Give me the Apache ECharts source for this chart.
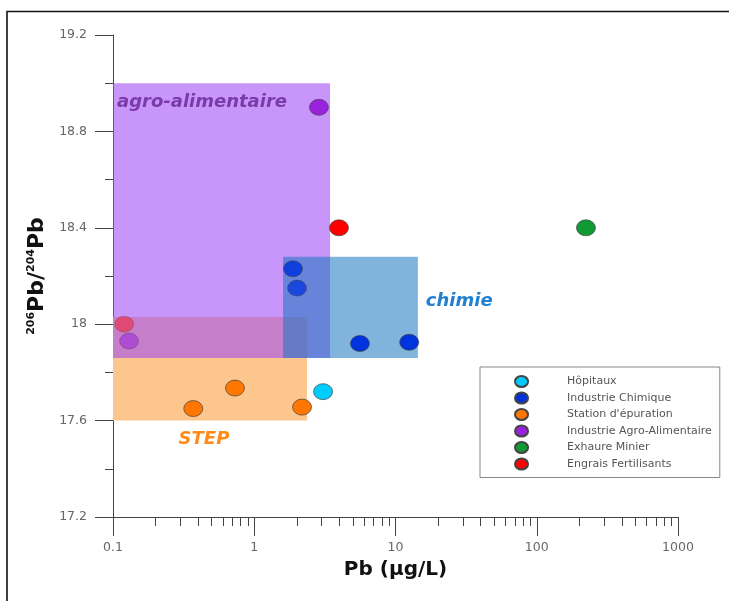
<!DOCTYPE html>
<html>
<head>
<meta charset="utf-8">
<script src="https://cdn.jsdelivr.net/npm/echarts@6/dist/echarts.min.js"></script>
<style>html,body{margin:0;padding:0;background:#fff;}#c{width:729px;height:601px;}</style>
</head>
<body>
<div id="c"></div>
<script>
// ---- data ----
const seriesNames = ['Hôpitaux', 'Industrie Chimique', "Station d'épuration", 'Industrie Agro-Alimentaire', 'Exhaure Minier', 'Engrais Fertilisants'];
const hopitaux = [[3.07, 17.72]];
const chimique = [[1.88, 18.23], [2.01, 18.15], [5.6, 17.92], [12.5, 17.925]];
const station = [[0.37, 17.65], [0.73, 17.735], [2.18, 17.656]];
const agro = [[2.87, 18.9], [0.13, 17.93]];
const exhaure = [[223, 18.4]];
const engrais = [[3.98, 18.4], [0.12, 18.0]];
const seriesValues = [hopitaux, chimique, station, agro, exhaure, engrais];

// zones: [x1, y1, x2, y2]
const zoneNames = ['STEP', 'agro-alimentaire', 'chimie'];
const zoneStep = [0.1, 18.03, 2.36, 17.6];
const zoneAgro = [0.1, 19.0, 3.44, 17.86];
const zoneChimie = [1.6, 18.28, 14.4, 17.86];

const xLabelValues = [0.1, 1, 10, 100, 1000];
const xMinorValues = [0.2,0.3,0.4,0.5,0.6,0.7,0.8,0.9, 2,3,4,5,6,7,8,9, 20,30,40,50,60,70,80,90, 200,300,400,500,600,700,800,900];

// ---- styles ----
const colors = ['#00ccff', '#0033dd', '#ff7700', '#9922dd', '#119933', '#ff0000'];
const pointOpacity = [[1], [0.85, 0.75, 1, 1], [1, 1, 1], [1, 0.55], [1], [1, 0.42]];
const ellipse = 'path://M0,8A9.5,8,0,1,1,19,8A9.5,8,0,1,1,0,8Z';
const FONT = 'DejaVu Sans';

const chart = echarts.init(document.getElementById('c'), null, {renderer: 'canvas'});

const scatterSeries = seriesNames.map((name, i) => ({
  name: name,
  type: 'scatter',
  xAxisIndex: 0,
  yAxisIndex: 0,
  z: 5,
  symbol: ellipse,
  symbolSize: [19, 16],
  itemStyle: {color: colors[i], borderColor: '#444', borderWidth: 0.7, opacity: 1},
  emphasis: {disabled: true},
  data: seriesValues[i].map((v, j) => ({value: v, itemStyle: {opacity: pointOpacity[i][j]}}))
}));

function area(z, color, label) {
  return [{coord: [z[0], z[1]], itemStyle: {color: color}, label: label}, {coord: [z[2], z[3]]}];
}

const zoneSeries = {
  type: 'scatter',
  name: 'zones',
  z: 1,
  data: [],
  silent: true,
  markArea: {
    silent: true,
    data: [
      area(zoneStep, 'rgb(252,198,140)', {show: true, formatter: zoneNames[0], position: 'bottom', distance: 10, offset: [-6, 0],
        fontFamily: FONT, fontWeight: 'bold', fontStyle: 'italic', fontSize: 18, color: '#ff8c1a'}),
      area(zoneAgro, 'rgba(160,74,246,0.58)', {show: true, formatter: zoneNames[1], position: 'insideTopLeft', distance: 4, offset: [0, 6],
        fontFamily: FONT, fontWeight: 'bold', fontStyle: 'italic', fontSize: 18, color: '#7b3aaa'}),
      area(zoneChimie, 'rgba(24,118,191,0.55)', {show: true, formatter: zoneNames[2], position: 'right', distance: 8, offset: [0, -6],
        fontFamily: FONT, fontWeight: 'bold', fontStyle: 'italic', fontSize: 18, color: '#2280d0'})
    ]
  }
};

const option = {
  animation: false,
  backgroundColor: '#fff',
  grid: {left: 113, right: 51, top: 35, bottom: 84, containLabel: false, outerBoundsMode: 'none'},
  xAxis: [{
    type: 'log', logBase: 10, min: 0.1, max: 1000,
    position: 'bottom',
    name: 'Pb (µg/L)', nameLocation: 'middle', nameGap: 43,
    nameTextStyle: {fontFamily: FONT, fontWeight: 'bold', fontSize: 20, color: '#111'},
    axisLine: {show: true, lineStyle: {color: '#444', width: 1}},
    axisTick: {show: true, inside: false, length: 19, lineStyle: {color: '#444'}, customValues: xLabelValues},
    axisLabel: {show: true, margin: 24, fontFamily: FONT, fontSize: 12.5, color: '#666', customValues: xLabelValues,
      formatter: v => String(+v.toPrecision(3))},
    splitLine: {show: false}
  }, {
    type: 'log', logBase: 10, min: 0.1, max: 1000,
    position: 'bottom',
    axisLine: {show: false},
    axisTick: {show: true, inside: false, length: 9, lineStyle: {color: '#444'}, customValues: xMinorValues},
    axisLabel: {show: false},
    splitLine: {show: false}
  }],
  yAxis: {
    type: 'value', min: 17.2, max: 19.2, interval: 0.4,
    name: '{s|206}{b|Pb/}{s|204}{b|Pb}', nameLocation: 'middle', nameGap: 62, nameRotate: 90,
    nameTextStyle: {
      rich: {
        s: {fontFamily: FONT, fontWeight: 'bold', fontSize: 11, color: '#111', verticalAlign: 'top', lineHeight: 22},
        b: {fontFamily: FONT, fontWeight: 'bold', fontSize: 22, color: '#111', lineHeight: 24}
      }
    },
    axisLine: {show: true, lineStyle: {color: '#444', width: 1}},
    axisTick: {show: true, inside: false, length: 18, lineStyle: {color: '#444'}},
    minorTick: {show: true, splitNumber: 2, length: 8, lineStyle: {color: '#444'}},
    axisLabel: {margin: 26, fontFamily: FONT, fontSize: 12.5, color: '#666', formatter: v => String(+v.toFixed(1))},
    splitLine: {show: false}
  },
  legend: {
    data: seriesNames,
    orient: 'vertical',
    left: 480, top: 367,
    padding: [8, 8, 7, 34],
    borderColor: '#888', borderWidth: 1,
    itemWidth: 15, itemHeight: 11, itemGap: 3.5,
    icon: ellipse,
    selectedMode: false,
    textStyle: {fontFamily: FONT, fontSize: 11, color: '#555', lineHeight: 12, padding: [0, 0, 0, 33]}
  },
  graphic: [{
    type: 'rect', silent: true, z: 100,
    shape: {x: 7, y: 11.5, width: 760, height: 640},
    style: {fill: null, stroke: '#111', lineWidth: 1.6}
  }],
  series: [zoneSeries].concat(scatterSeries)
};
chart.setOption(option);
</script>
</body>
</html>
